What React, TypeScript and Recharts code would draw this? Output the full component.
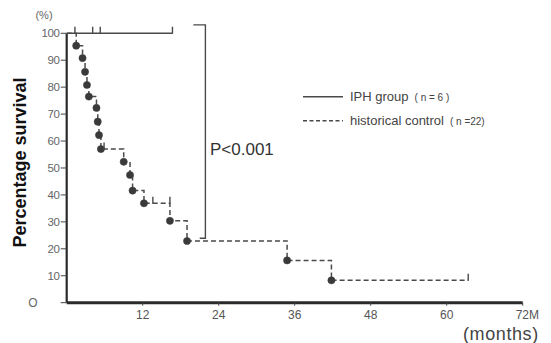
import React from 'react';
import { ComposedChart, Line, XAxis, YAxis, Legend, ReferenceLine } from 'recharts';

// ---- data ----
const xTicks = [12, 24, 36, 48, 60, 72];
const yTicks = [0, 10, 20, 30, 40, 50, 60, 70, 80, 90, 100];

// IPH group (n=6): all survived, censored at these months
const iphTimes = [0, 1.3, 4.1, 5.3, 16.7];
const iphSurvival = [100, 100, 100, 100, 100];
const iphMarks = ['start', 'censor', 'censor', 'censor', 'censor'];

// historical control (n=22)
const controlTimes = [0, 1.5, 2.5, 2.9, 3.2, 3.5, 4.7, 4.9, 5.1, 5.4, 5.9, 9.0, 10.0, 10.4, 12.2, 13.6, 16.3, 16.3, 19.0, 34.8, 41.8, 63.4];
const controlSurvival = [100, 95.4, 90.8, 85.7, 80.8, 76.5, 72.3, 67.2, 62.2, 57.0, 57.0, 52.3, 47.4, 41.6, 36.9, 36.9, 36.9, 30.4, 22.9, 15.7, 8.3, 8.3];
const controlMarks = ['start', 'death', 'death', 'death', 'death', 'death', 'death', 'death', 'death', 'death', 'censor', 'death', 'death', 'death', 'death', 'censor', 'censor', 'death', 'death', 'death', 'death', 'censor'];

// P-value bracket
const bracketTimes = [20.0, 21.9, 21.9, 21.0];
const bracketValues = [103.1, 103.1, 23.9, 23.9];

const legendItems = [
  { name: 'IPH group', n: '( n = 6 )', dashed: false },
  { name: 'historical control', n: '( n =22)', dashed: true },
];

const build = (ts: number[], vs: number[], ms?: string[]) =>
  ts.map((t, i) => ({ t, s: vs[i], mark: ms ? ms[i] : '' }));

const iphData = build(iphTimes, iphSurvival, iphMarks);
const controlData = build(controlTimes, controlSurvival, controlMarks);
const bracketData = build(bracketTimes, bracketValues);

const LINE = '#4a4a4a';

const renderMark = (props: any) => {
  const { cx, cy, payload, index } = props;
  const key = `m-${index}-${cx}`;
  if (cx == null || cy == null) return <g key={key} />;
  if (payload.mark === 'death') {
    return <circle key={key} cx={cx} cy={cy} r={3.6} fill="#3a3a3a" stroke="#3a3a3a" strokeWidth={0.5} />;
  }
  if (payload.mark === 'censor') {
    return <line key={key} x1={cx} x2={cx} y1={cy - 6.5} y2={cy + 0.5} stroke={LINE} strokeWidth={1.4} />;
  }
  return <g key={key} />;
};

const YTick = (props: any) => {
  const { x, y, payload } = props;
  const v = payload.value;
  if (v === 0) {
    return (
      <text x={33} y={y} dy="0.35em" textAnchor="middle" fontSize={12} fill="#666" fontFamily="Liberation Sans, Arial, sans-serif">
        O
      </text>
    );
  }
  return (
    <text x={x} y={y} dy="0.35em" textAnchor="end" fontSize={11.5} fill="#666" fontFamily="Liberation Sans Narrow, Liberation Sans, Arial, sans-serif" letterSpacing={-0.3}>
      {v}
    </text>
  );
};

const XTick = (props: any) => {
  const { x, y, payload } = props;
  const v = payload.value;
  if (v === 72) {
    return (
      <text x={x - 7} y={y} dy="0.71em" textAnchor="start" fontSize={12} fill="#555" fontFamily="Liberation Sans, Arial, sans-serif">
        72M
      </text>
    );
  }
  return (
    <text x={x} y={y} dy="0.71em" textAnchor="middle" fontSize={12} fill="#555" fontFamily="Liberation Sans, Arial, sans-serif">
      {v}
    </text>
  );
};

const LegendContent = () => (
  <svg width={230} height={44} style={{ overflow: 'visible' }}>
    {legendItems.map((it, i) => {
      const y = 11.7 + i * 24;
      return (
        <g key={it.name}>
          <line x1={3} x2={43} y1={y} y2={y} stroke={LINE} strokeWidth={1.4} strokeDasharray={it.dashed ? '4 2.5' : undefined} />
          <text x={50} y={y + 4.5} fontSize={13} fill="#444" fontFamily="Liberation Sans, Arial, sans-serif">
            {it.name}
            <tspan dx={6} fontSize={10}>{it.n}</tspan>
          </text>
        </g>
      );
    })}
  </svg>
);

export default function App() {
  return (
    <div style={{ position: 'absolute', left: 0, top: 0, width: 551, height: 343, background: '#fff' }}>
      <ComposedChart width={551} height={343} margin={{ top: 17.1, right: 28.3, bottom: 10.3, left: 16.7 }}>
        <XAxis
          dataKey="t"
          type="number"
          domain={[0, 72]}
          ticks={xTicks}
          allowDataOverflow
          height={30}
          axisLine={{ stroke: '#2a2a2a', strokeWidth: 3 }}
          tickLine={{ stroke: '#444' }}
          tickSize={3}
          tickMargin={5}
          tick={<XTick />}
        />
        <YAxis
          type="number"
          domain={[0, 106]}
          ticks={yTicks}
          allowDataOverflow
          width={50}
          axisLine={false}
          tickLine={{ stroke: '#444' }}
          tickSize={6}
          tickMargin={1}
          tick={<YTick />}
        />
        <ReferenceLine segment={[{ x: 0, y: 0 }, { x: 0, y: 100 }]} stroke="#2a2a2a" strokeWidth={2.2} />
        <Legend
          layout="vertical"
          align="center"
          verticalAlign="middle"
          content={<LegendContent />}
          wrapperStyle={{ position: 'absolute', left: 300, top: 85, width: 230, height: 44 }}
        />
        <Line
          data={bracketData}
          dataKey="s"
          type="linear"
          stroke={LINE}
          strokeWidth={1.4}
          dot={false}
          activeDot={false}
          legendType="none"
          isAnimationActive={false}
        />
        <Line
          data={iphData}
          dataKey="s"
          name="IPH group"
          type="stepAfter"
          stroke={LINE}
          strokeWidth={1.4}
          dot={renderMark}
          activeDot={false}
          isAnimationActive={false}
        />
        <Line
          data={controlData}
          dataKey="s"
          name="historical control"
          type="stepAfter"
          stroke={LINE}
          strokeWidth={1.5}
          strokeDasharray="5 3"
          dot={renderMark}
          activeDot={false}
          isAnimationActive={false}
        />
      </ComposedChart>
      <svg width={551} height={343} style={{ position: 'absolute', left: 0, top: 0, pointerEvents: 'none' }}>
        <text x={44} y={15} dy="0.35em" textAnchor="middle" fontSize={11} fill="#666" fontFamily="Liberation Sans, Arial, sans-serif">(%)</text>
        <text
          transform="translate(20,162.5) rotate(-90)"
          textAnchor="middle"
          dominantBaseline="central"
          fontSize={18}
          fontWeight="bold"
          fill="#111"
          fontFamily="Liberation Sans, Arial, sans-serif"
        >
          Percentage survival
        </text>
        <text x={210} y={155} fontSize={17} fill="#333" fontFamily="Liberation Sans, Arial, sans-serif">P&lt;0.001</text>
        <text x={463} y={340} fontSize={18} fill="#444" letterSpacing={0.6} fontFamily="Liberation Sans, Arial, sans-serif">(months)</text>
      </svg>
    </div>
  );
}
